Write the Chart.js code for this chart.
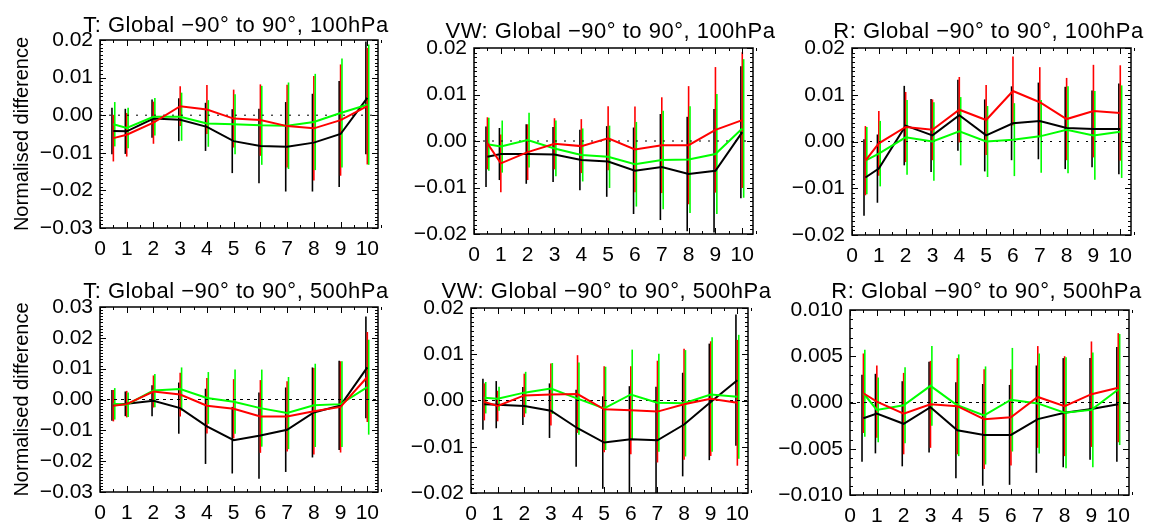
<!DOCTYPE html>
<html lang="en">

<head>
    <meta charset="UTF-8">
    <meta name="viewport" content="width=device-width, initial-scale=1.0">
    <script src="https://cdn.jsdelivr.net/npm/chart.js"></script>
    <title>Normalised difference</title>
    <style>
        body { margin: 0; background: #fff; overflow: hidden; }
        #figura { position: relative; width: 1150px; height: 523px; overflow: hidden; }
        #figura canvas { position: absolute; }
    </style>
</head>

<body>
    <div id="figura"></div>
</body>
<script>
    // pontos no eixo x
    const dias = [0.5, 1, 2, 3, 4, 5, 6, 7, 8, 9, 10];
    const xTicks = [0, 1, 2, 3, 4, 5, 6, 7, 8, 9, 10];

    const yTicksT100 = [-0.03, -0.02, -0.01, 0, 0.01, 0.02];
    const yTicks02 = [-0.02, -0.01, 0, 0.01, 0.02];
    const yTicksT500 = [-0.03, -0.02, -0.01, 0, 0.01, 0.02, 0.03];
    const yTicksR500 = [-0.01, -0.005, 0, 0.005, 0.01];

    // T 100hPa
    const t100Preto = [-0.0042, -0.0043, -0.0009, -0.0012, -0.0031, -0.0069, -0.0082, -0.0084, -0.0073, -0.0050, 0.0046];
    const t100PretoErr = [0.0062, 0.0060, 0.0051, 0.0057, 0.0064, 0.0085, 0.0099, 0.0119, 0.0130, 0.0141, 0.0150];
    const t100Verde = [-0.0024, -0.0034, -0.0004, -0.0004, -0.0022, -0.0024, -0.0027, -0.0028, -0.0018, 0.0006, 0.0028];
    const t100VerdeErr = [0.0059, 0.0054, 0.0050, 0.0064, 0.0062, 0.0080, 0.0105, 0.0115, 0.0128, 0.0145, 0.0160];
    const t100Vermelho = [-0.0061, -0.0052, -0.0020, 0.0024, 0.0015, -0.0009, -0.0013, -0.0029, -0.0035, -0.0013, 0.0024];
    const t100VermelhoErr = [0.0062, 0.0058, 0.0056, 0.0053, 0.0065, 0.0077, 0.0095, 0.0110, 0.0139, 0.0148, 0.0155];

    // VW 100hPa
    const vw100Preto = [-0.0034, -0.0028, -0.0028, -0.0029, -0.0041, -0.0044, -0.0064, -0.0056, -0.0071, -0.0064, 0.0019];
    const vw100PretoErr = [0.0065, 0.0056, 0.0064, 0.0059, 0.0065, 0.0076, 0.0093, 0.0114, 0.0123, 0.0133, 0.0142];
    const vw100Verde = [-0.0007, -0.0012, 0.0002, -0.0016, -0.0030, -0.0034, -0.0050, -0.0041, -0.0040, -0.0028, 0.0027];
    const vw100VerdeErr = [0.0057, 0.0056, 0.0059, 0.0060, 0.0057, 0.0067, 0.0091, 0.0106, 0.0115, 0.0129, 0.0149];
    const vw100Vermelho = [-0.0005, -0.0048, -0.0024, -0.0006, -0.0011, 0.0006, -0.0018, -0.0009, -0.0009, 0.0024, 0.0045];
    const vw100VermelhoErr = [0.0056, 0.0062, 0.0060, 0.0055, 0.0058, 0.0069, 0.0092, 0.0103, 0.0127, 0.0135, 0.0146];

    // R 100hPa
    const r100Preto = [-0.0077, -0.0058, 0.0034, 0.0013, 0.0056, 0.0013, 0.0039, 0.0044, 0.0029, 0.0027, 0.0027];
    const r100PretoErr = [0.0082, 0.0073, 0.0085, 0.0078, 0.0076, 0.0077, 0.0079, 0.0082, 0.0088, 0.0082, 0.0097];
    const r100Verde = [-0.0041, -0.0026, 0.0009, 0.0000, 0.0022, 0.0000, 0.0004, 0.0011, 0.0025, 0.0013, 0.0021];
    const r100VerdeErr = [0.0072, 0.0070, 0.0080, 0.0084, 0.0073, 0.0076, 0.0078, 0.0078, 0.0093, 0.0095, 0.0099];
    const r100Vermelho = [-0.0041, -0.0004, 0.0031, 0.0025, 0.0068, 0.0046, 0.0108, 0.0084, 0.0048, 0.0065, 0.0061];
    const r100VermelhoErr = [0.0074, 0.0069, 0.0075, 0.0065, 0.0070, 0.0075, 0.0074, 0.0075, 0.0088, 0.0099, 0.0102];

    // T 500hPa
    const t500Preto = [-0.0019, -0.0014, -0.0004, -0.0028, -0.0087, -0.0132, -0.0117, -0.0098, -0.0042, -0.0019, 0.0104];
    const t500PretoErr = [0.0050, 0.0040, 0.0050, 0.0083, 0.0122, 0.0108, 0.0140, 0.0137, 0.0146, 0.0145, 0.0165];
    const t500Verde = [-0.0014, -0.0017, 0.0029, 0.0034, 0.0005, -0.0007, -0.0028, -0.0044, -0.0019, -0.0015, 0.0040];
    const t500VerdeErr = [0.0051, 0.0040, 0.0054, 0.0070, 0.0084, 0.0104, 0.0125, 0.0117, 0.0135, 0.0139, 0.0154];
    const t500Vermelho = [-0.0020, -0.0015, 0.0026, 0.0016, -0.0020, -0.0030, -0.0055, -0.0055, -0.0038, -0.0024, 0.0073];
    const t500VermelhoErr = [0.0051, 0.0043, 0.0052, 0.0071, 0.0090, 0.0096, 0.0118, 0.0114, 0.0140, 0.0148, 0.0146];

    // VW 500hPa
    const vw500Preto = [-0.0008, -0.0009, -0.0012, -0.0022, -0.0060, -0.0091, -0.0084, -0.0086, -0.0052, -0.0003, 0.0044];
    const vw500PretoErr = [0.0055, 0.0051, 0.0041, 0.0059, 0.0083, 0.0100, 0.0115, 0.0116, 0.0112, 0.0126, 0.0142];
    const vw500Verde = [0.0006, 0.0004, 0.0017, 0.0026, 0.0004, -0.0017, 0.0013, -0.0005, -0.0006, 0.0013, 0.0008];
    const vw500VerdeErr = [0.0034, 0.0026, 0.0045, 0.0055, 0.0078, 0.0090, 0.0097, 0.0106, 0.0115, 0.0124, 0.0134];
    const vw500Vermelho = [-0.0003, -0.0012, 0.0011, 0.0013, 0.0014, -0.0019, -0.0021, -0.0024, -0.0008, 0.0004, -0.0005];
    const vw500VermelhoErr = [0.0040, 0.0033, 0.0047, 0.0067, 0.0084, 0.0093, 0.0095, 0.0110, 0.0120, 0.0124, 0.0136];

    // R 500hPa
    const r500Preto = [-0.0017, -0.0012, -0.0023, -0.0005, -0.0030, -0.0035, -0.0035, -0.0018, -0.0011, -0.0007, -0.0002];
    const r500PretoErr = [0.0047, 0.0043, 0.0046, 0.0049, 0.0052, 0.0055, 0.0054, 0.0058, 0.0059, 0.0055, 0.0062];
    const r500Verde = [0.0010, -0.0008, -0.0003, 0.0018, -0.0003, -0.0014, 0.0003, -0.0001, -0.0011, -0.0008, 0.0014];
    const r500VerdeErr = [0.0047, 0.0035, 0.0041, 0.0043, 0.0055, 0.0053, 0.0056, 0.0054, 0.0060, 0.0062, 0.0060];
    const r500Vermelho = [0.0010, 0.0001, -0.0012, -0.0002, -0.0004, -0.0018, -0.0016, 0.0006, -0.0004, 0.0009, 0.0016];
    const r500VermelhoErr = [0.0043, 0.0039, 0.0044, 0.0047, 0.0052, 0.0054, 0.0052, 0.0055, 0.0054, 0.0057, 0.0059];

    const FONTE = '"Liberation Sans", Arial, Helvetica, sans-serif';
    Chart.defaults.font.family = FONTE;
    Chart.defaults.color = '#000';

    // barras de erro desenhadas antes das linhas
    const barrasErro = {
        id: 'barrasErro',
        beforeDatasetsDraw(chart) {
            const { ctx, chartArea: a, scales: { x, y } } = chart;
            ctx.save();
            ctx.beginPath();
            ctx.rect(a.left, a.top, a.right - a.left, a.bottom - a.top);
            ctx.clip();
            ctx.lineWidth = 1.6;
            ['#000000', '#ff0000', '#00ff00'].forEach(cor => {
                chart.data.datasets.forEach(ds => {
                    if (!ds.erros || ds.borderColor != cor) return;
                    ctx.strokeStyle = cor;
                    ds.data.forEach((p, i) => {
                        const px = x.getPixelForValue(p.x) + ds.desvio;
                        ctx.beginPath();
                        ctx.moveTo(px, y.getPixelForValue(p.y - ds.erros[i]));
                        ctx.lineTo(px, y.getPixelForValue(p.y + ds.erros[i]));
                        ctx.stroke();
                    });
                });
            });
            ctx.restore();
        }
    };

    // caixa com ticks para dentro nos quatro lados (estilo IDL)
    const moldura = {
        id: 'moldura',
        afterDatasetsDraw(chart, args, opts) {
            const { ctx, chartArea: a, scales: { x, y } } = chart;
            ctx.save();
            ctx.strokeStyle = '#000';
            ctx.lineWidth = 1;
            ctx.beginPath();
            const nx = Math.round((x.max - x.min) / opts.xMenor);
            for (let k = 0; k <= nx; k++) {
                const v = x.min + k * opts.xMenor;
                const maior = x.ticks.some(t => Math.abs(t.value - v) < 1e-9);
                const len = maior ? 6 : 3;
                const px = Math.round(x.getPixelForValue(v)) + 0.5;
                ctx.moveTo(px, a.bottom); ctx.lineTo(px, a.bottom - len);
                ctx.moveTo(px, a.top); ctx.lineTo(px, a.top + len);
            }
            const ny = Math.round((y.max - y.min) / opts.yMenor);
            for (let k = 0; k <= ny; k++) {
                const v = y.min + k * opts.yMenor;
                const maior = y.ticks.some(t => Math.abs(t.value - v) < 1e-9);
                const len = maior ? 6 : 3;
                const py = Math.round(y.getPixelForValue(v)) + 0.5;
                ctx.moveTo(a.left, py); ctx.lineTo(a.left + len, py);
                ctx.moveTo(a.right, py); ctx.lineTo(a.right - len, py);
            }
            ctx.stroke();
            ctx.lineWidth = 1.5;
            ctx.strokeRect(a.left, a.top, a.right - a.left, a.bottom - a.top);
            ctx.restore();
        }
    };

    const tituloPainel = {
        id: 'tituloPainel',
        afterDraw(chart, args, opts) {
            const { ctx, chartArea: a } = chart;
            ctx.save();
            ctx.font = '22px ' + FONTE;
            ctx.letterSpacing = opts.espaco + 'px';
            ctx.fillStyle = '#000';
            ctx.textAlign = 'center';
            ctx.textBaseline = 'alphabetic';
            ctx.fillText(opts.texto, (a.left + a.right) / 2 + opts.dx, a.top - opts.gap);
            ctx.restore();
        }
    };

    function serie(valores, erros, cor, desvio) {
        return {
            data: dias.map((d, i) => ({ x: d, y: valores[i] })),
            erros: erros,
            desvio: desvio,
            borderColor: cor,
            borderWidth: 2,
            pointRadius: 0,
            tension: 0,
            fill: false
        };
    }

    function formatar(v, casas) {
        const s = Math.abs(v).toFixed(casas);
        return (v < -1e-12 ? '\u2212' : '') + s;
    }

    function criarPainel(p) {
        const yW = p.yTitulo ? 100 : 88;
        const topo = 40, xH = 40, dir = 45;
        const canvas = document.createElement('canvas');
        canvas.width = yW + (p.caixa.r - p.caixa.l) + dir;
        canvas.height = topo + (p.caixa.b - p.caixa.t) + xH;
        canvas.style.left = (p.caixa.l - yW) + 'px';
        canvas.style.top = (p.caixa.t - topo) + 'px';
        document.getElementById('figura').appendChild(canvas);

        const xMin = 0, xMax = 10.4;
        const zero = {
            data: [{ x: xMin, y: 0 }, { x: xMax, y: 0 }],
            borderColor: '#000',
            borderWidth: 1,
            borderDash: p.traco,
            pointRadius: 0
        };

        return new Chart(canvas.getContext('2d'), {
            type: 'line',
            data: {
                datasets: [
                    serie(p.vermelho, p.vermelhoErr, '#ff0000', 0),
                    serie(p.verde, p.verdeErr, '#00ff00', 1.4),
                    serie(p.preto, p.pretoErr, '#000000', -1.4),
                    zero
                ]
            },
            options: {
                responsive: false,
                animation: false,
                events: [],
                layout: { padding: { top: topo, right: dir, left: 0, bottom: 0 } },
                plugins: {
                    legend: { display: false },
                    tooltip: { enabled: false },
                    tituloPainel: { texto: p.titulo, dx: -3, gap: p.gap, espaco: 0.5 },
                    moldura: { xMenor: 0.5, yMenor: 0.001 }
                },
                scales: {
                    x: {
                        type: 'linear',
                        min: xMin,
                        max: xMax,
                        afterBuildTicks: s => { s.ticks = xTicks.map(v => ({ value: v })); },
                        afterFit: s => { s.height = xH; },
                        grid: { display: false, drawTicks: false },
                        border: { display: false },
                        ticks: {
                            font: { size: 21 },
                            padding: 9,
                            autoSkip: false,
                            maxRotation: 0,
                            callback: v => String(v)
                        }
                    },
                    y: {
                        min: p.yTicks[0],
                        max: p.yTicks[p.yTicks.length - 1],
                        afterBuildTicks: s => { s.ticks = p.yTicks.map(v => ({ value: v })); },
                        afterFit: s => { s.width = yW; },
                        grid: { display: false, drawTicks: false },
                        border: { display: false },
                        ticks: {
                            font: { size: 21 },
                            padding: 7,
                            callback: v => formatar(v, p.casas)
                        },
                        title: {
                            display: p.yTitulo,
                            text: 'Normalised difference',
                            font: { size: 20 },
                            padding: { top: 10, bottom: 0 }
                        }
                    }
                }
            },
            plugins: [barrasErro, moldura, tituloPainel]
        });
    }

    const paineis = [
        { titulo: 'T: Global \u221290\u00b0 to 90\u00b0, 100hPa', caixa: { l: 100, t: 40, r: 378, b: 228 }, gap: 8, yTitulo: true,
          yTicks: yTicksT100, casas: 2, traco: [2, 7],
          preto: t100Preto, pretoErr: t100PretoErr, verde: t100Verde, verdeErr: t100VerdeErr, vermelho: t100Vermelho, vermelhoErr: t100VermelhoErr },
        { titulo: 'VW: Global \u221290\u00b0 to 90\u00b0, 100hPa', caixa: { l: 474, t: 48, r: 753, b: 234 }, gap: 10, yTitulo: false,
          yTicks: yTicks02, casas: 2, traco: [2, 7],
          preto: vw100Preto, pretoErr: vw100PretoErr, verde: vw100Verde, verdeErr: vw100VerdeErr, vermelho: vw100Vermelho, vermelhoErr: vw100VermelhoErr },
        { titulo: 'R: Global \u221290\u00b0 to 90\u00b0, 100hPa', caixa: { l: 852, t: 48, r: 1131, b: 235 }, gap: 10, yTitulo: false,
          yTicks: yTicks02, casas: 2, traco: [2, 7],
          preto: r100Preto, pretoErr: r100PretoErr, verde: r100Verde, verdeErr: r100VerdeErr, vermelho: r100Vermelho, vermelhoErr: r100VermelhoErr },
        { titulo: 'T: Global \u221290\u00b0 to 90\u00b0, 500hPa', caixa: { l: 100, t: 307, r: 378, b: 492 }, gap: 9, yTitulo: true,
          yTicks: yTicksT500, casas: 2, traco: [3, 4],
          preto: t500Preto, pretoErr: t500PretoErr, verde: t500Verde, verdeErr: t500VerdeErr, vermelho: t500Vermelho, vermelhoErr: t500VermelhoErr },
        { titulo: 'VW: Global \u221290\u00b0 to 90\u00b0, 500hPa', caixa: { l: 471, t: 308, r: 748, b: 493 }, gap: 10, yTitulo: false,
          yTicks: yTicks02, casas: 2, traco: [3, 4],
          preto: vw500Preto, pretoErr: vw500PretoErr, verde: vw500Verde, verdeErr: vw500VerdeErr, vermelho: vw500Vermelho, vermelhoErr: vw500VermelhoErr },
        { titulo: 'R: Global \u221290\u00b0 to 90\u00b0, 500hPa', caixa: { l: 850, t: 310, r: 1129, b: 495 }, gap: 12, yTitulo: false,
          yTicks: yTicksR500, casas: 3, traco: [3, 4],
          preto: r500Preto, pretoErr: r500PretoErr, verde: r500Verde, verdeErr: r500VerdeErr, vermelho: r500Vermelho, vermelhoErr: r500VermelhoErr }
    ];

    paineis.forEach(criarPainel);
</script>

</html>
